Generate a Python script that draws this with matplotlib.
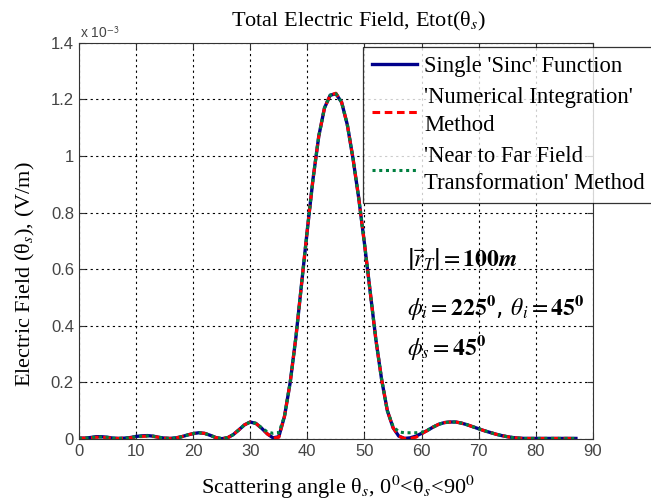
import matplotlib.pyplot as plt
from matplotlib.lines import Line2D

plt.rcParams['mathtext.fontset'] = 'stix'

# scattering angle (deg) and |E| in units of 1e-3 V/m
theta = list(range(0, 88))
sinc_fn = [0.003, 0.003, 0.005, 0.008, 0.008, 0.006, 0.003, 0.002, 0.003, 0.005,
           0.009, 0.011, 0.012, 0.010, 0.006, 0.003, 0.002, 0.004, 0.008, 0.014,
           0.019, 0.022, 0.020, 0.013, 0.005, 0.001, 0.004, 0.015, 0.032, 0.050,
           0.060, 0.055, 0.038, 0.018, 0.004, 0.008, 0.080, 0.200, 0.360, 0.550,
           0.740, 0.920, 1.070, 1.170, 1.215, 1.220, 1.190, 1.110, 0.990, 0.850,
           0.690, 0.520, 0.350, 0.210, 0.100, 0.040, 0.010, 0.002, 0.004, 0.010,
           0.020, 0.030, 0.042, 0.052, 0.058, 0.060, 0.060, 0.056, 0.050, 0.043,
           0.036, 0.029, 0.023, 0.017, 0.012, 0.008, 0.005, 0.003, 0.002, 0.002,
           0.002, 0.002, 0.002, 0.002, 0.002, 0.002, 0.002, 0.002]
num_int = [0.003, 0.003, 0.004, 0.006, 0.006, 0.005, 0.003, 0.002, 0.003, 0.004,
           0.007, 0.009, 0.010, 0.009, 0.006, 0.003, 0.002, 0.004, 0.008, 0.014,
           0.019, 0.022, 0.020, 0.013, 0.005, 0.001, 0.004, 0.015, 0.032, 0.050,
           0.060, 0.055, 0.038, 0.018, 0.003, 0.006, 0.080, 0.200, 0.360, 0.550,
           0.740, 0.920, 1.070, 1.170, 1.215, 1.222, 1.190, 1.110, 0.990, 0.850,
           0.690, 0.520, 0.350, 0.210, 0.100, 0.040, 0.010, 0.002, 0.002, 0.006,
           0.018, 0.030, 0.042, 0.052, 0.058, 0.060, 0.060, 0.056, 0.050, 0.043,
           0.036, 0.029, 0.023, 0.017, 0.012, 0.008, 0.005, 0.003, 0.002, 0.002,
           0.002, 0.002, 0.002, 0.002, 0.002, 0.002, 0.002, 0.002]
near_far = [0.003, 0.003, 0.005, 0.007, 0.007, 0.006, 0.003, 0.002, 0.003, 0.005,
            0.008, 0.010, 0.011, 0.010, 0.006, 0.003, 0.002, 0.004, 0.008, 0.014,
            0.019, 0.022, 0.020, 0.013, 0.005, 0.002, 0.005, 0.015, 0.032, 0.050,
            0.060, 0.055, 0.040, 0.025, 0.020, 0.022, 0.080, 0.200, 0.360, 0.550,
            0.740, 0.920, 1.070, 1.170, 1.215, 1.220, 1.190, 1.110, 0.990, 0.850,
            0.690, 0.520, 0.350, 0.210, 0.100, 0.045, 0.025, 0.022, 0.022, 0.022,
            0.024, 0.031, 0.042, 0.052, 0.058, 0.060, 0.060, 0.056, 0.050, 0.043,
            0.036, 0.029, 0.023, 0.017, 0.012, 0.008, 0.005, 0.003, 0.002, 0.002,
            0.002, 0.002, 0.002, 0.002, 0.002, 0.002, 0.002, 0.002]

series_labels = ["Single 'Sinc' Function",
                 "'Numerical Integration'\nMethod",
                 "'Near to Far Field\nTransformation' Method"]

serif = 'Liberation Serif'
sans = 'Liberation Sans'
W, H = 651, 504

fig = plt.figure(figsize=(6.51, 5.04), dpi=100)
ax = fig.add_axes([0.121, 0.129, 0.790, 0.786])

styles = [dict(color='#00008b', lw=2.4, ls='-'),
          dict(color='#ff0000', lw=2.2, ls=(0, (2.5, 1.5))),
          dict(color='#008040', lw=2.2, ls=(0, (1, 1.2)))]
for ys, st in zip([sinc_fn, num_int, near_far], styles):
    ax.plot(theta, ys, **st)

ax.set_xlim(0, 90)
ax.set_ylim(0, 1.4)
ax.set_xticks(range(0, 91, 10))
ax.set_yticks([0, 0.2, 0.4, 0.6, 0.8, 1.0, 1.2, 1.4])
ax.set_yticklabels(['0', '0.2', '0.4', '0.6', '0.8', '1', '1.2', '1.4'])
ax.tick_params(direction='in', labelsize=12, top=True, right=True, length=4,
               labelcolor='#444444', color='#333333')
for lab in ax.get_xticklabels() + ax.get_yticklabels():
    lab.set_fontfamily(sans)
ax.grid(True, color='black', ls=(0, (2, 3)), lw=0.8)
for sp in ax.spines.values():
    sp.set_color('#333333')

fig.text(80 / W, 1 - 33 / H, r'x 10$^{\mathsf{-3}}$', fontsize=10, family=sans,
         color='#444444', ha='left', va='center')

fig.text(359 / W, 1 - 26 / H, r'Total Electric Field, Etot(θ$_s$)', family=serif,
         fontsize=16, ha='center', va='baseline')
fig.text(338 / W, 1 - 487 / H, r'Scattering angle θ$_s$, 0$^0$<θ$_s$<90$^0$',
         family=serif, fontsize=16, ha='center', va='center')
fig.text(25 / W, 1 - 274 / H, r'Electric Field (θ$_s$), (V/m)', family=serif,
         fontsize=16, ha='center', va='center', rotation=90)

handles = [Line2D([], [], **st) for st in styles]
leg = fig.legend(handles, series_labels, loc='upper left',
                 bbox_to_anchor=(363 / W, 1 - 47 / H), borderaxespad=0,
                 prop={'family': serif, 'size': 16.3}, frameon=True, fancybox=False,
                 edgecolor='black', handlelength=2.0, borderpad=0.4,
                 labelspacing=0.45, handletextpad=0.3)
leg.get_frame().set_linewidth(0.9)
for t in leg.get_texts():
    t.set_linespacing(1.4)

fig.text(407 / W, 1 - 260 / H, r'$\left|\boldsymbol{\vec{r}_T}\right| = \mathbf{100}\boldsymbol{m}$',
         fontsize=17, va='center')
fig.text(407 / W, 1 - 308 / H,
         r'$\boldsymbol{\phi_i} = \mathbf{225^0}$, $\boldsymbol{\theta_i} = \mathbf{45^0}$',
         fontsize=17, va='center')
fig.text(407 / W, 1 - 348 / H, r'$\boldsymbol{\phi_s} = \mathbf{45^0}$',
         fontsize=17, va='center')

fig.savefig('out.png', dpi=100)
